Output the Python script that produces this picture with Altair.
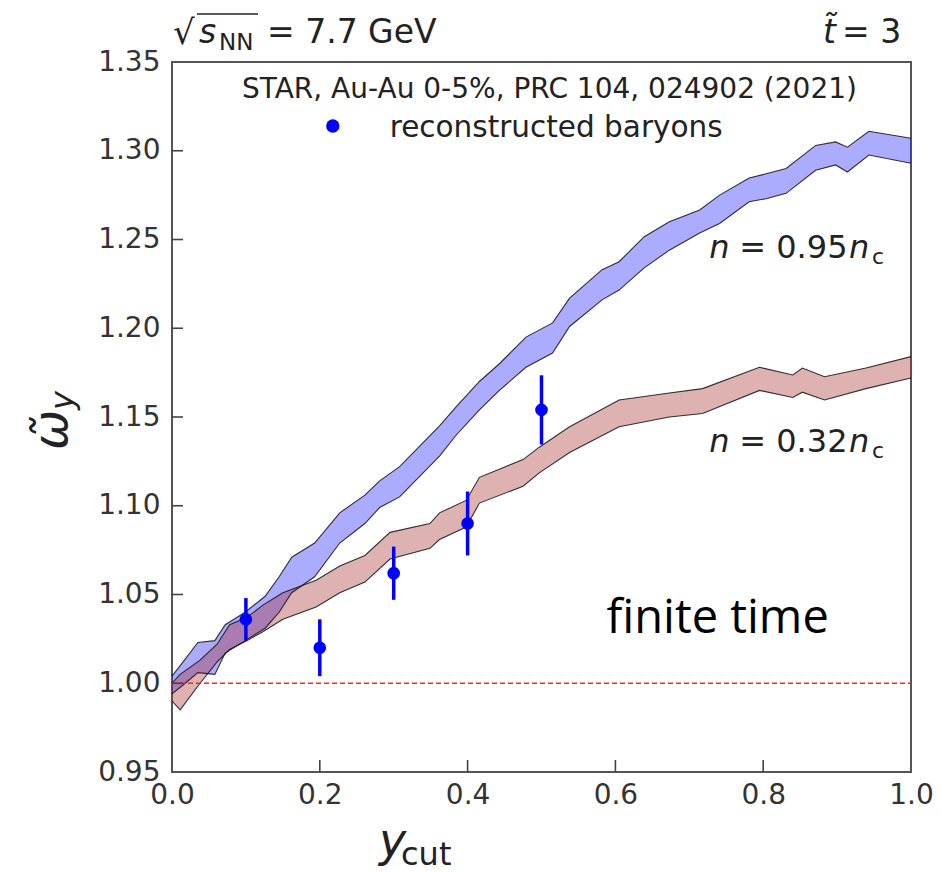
import altair as alt
import pandas as pd

# ---------------- data ----------------
X_BLUE = [0.000, 0.015, 0.035, 0.058, 0.072, 0.099, 0.126, 0.145, 0.162, 0.193,
          0.227, 0.261, 0.281, 0.308, 0.362, 0.385, 0.416, 0.443, 0.479, 0.515,
          0.538, 0.582, 0.605, 0.639, 0.673, 0.714, 0.741, 0.781, 0.804, 0.831,
          0.871, 0.898, 0.914, 0.943, 1.000]
HI_BLUE = [1.004, 1.012, 1.023, 1.024, 1.033, 1.040, 1.049, 1.060, 1.071, 1.079,
           1.096, 1.106, 1.114, 1.122, 1.145, 1.156, 1.170, 1.180, 1.195, 1.203,
           1.217, 1.233, 1.2375, 1.2516, 1.260, 1.2666, 1.275, 1.2846, 1.287, 1.290,
           1.303, 1.305, 1.302, 1.311, 1.307]
LO_BLUE = [0.994, 0.999, 1.006, 1.005, 1.017, 1.024, 1.031, 1.040, 1.051, 1.060,
           1.079, 1.090, 1.099, 1.105, 1.128, 1.140, 1.154, 1.165, 1.178, 1.186,
           1.201, 1.216, 1.2215, 1.234, 1.244, 1.2536, 1.259, 1.2713, 1.273, 1.276,
           1.289, 1.292, 1.288, 1.2976, 1.293]

X_RED = [0.000, 0.011, 0.038, 0.061, 0.078, 0.101, 0.123, 0.150, 0.195, 0.227,
         0.261, 0.295, 0.349, 0.362, 0.398, 0.416, 0.475, 0.497, 0.538, 0.605,
         0.673, 0.718, 0.795, 0.840, 0.853, 0.883, 0.939, 1.000]
HI_RED = [1.000, 1.005, 1.013, 1.022, 1.033, 1.037, 1.044, 1.051, 1.058, 1.066,
          1.072, 1.085, 1.090, 1.096, 1.103, 1.116, 1.126, 1.133, 1.1445, 1.1596,
          1.1635, 1.166, 1.178, 1.1737, 1.1776, 1.1727, 1.1776, 1.184]
LO_RED = [0.990, 0.985, 1.000, 1.012, 1.019, 1.024, 1.029, 1.036, 1.043, 1.051,
          1.057, 1.070, 1.076, 1.081, 1.088, 1.1015, 1.111, 1.1185, 1.130, 1.1445,
          1.150, 1.152, 1.165, 1.161, 1.164, 1.1596, 1.166, 1.172]

PTS_X = [0.1, 0.2, 0.3, 0.4, 0.5]
PTS_Y = [1.036, 1.020, 1.062, 1.090, 1.154]
PTS_ERR = [0.012, 0.016, 0.015, 0.018, 0.0195]

Y_TICKS = [0.95, 1.00, 1.05, 1.10, 1.15, 1.20, 1.25, 1.30, 1.35]
X_TICKS = [0.0, 0.2, 0.4, 0.6, 0.8, 1.0]
REF_LINE = [1.0]

# ---------------- tables ----------------
blue = pd.DataFrame({"x": X_BLUE, "hi": HI_BLUE, "lo": LO_BLUE, "s": "blue"})
red = pd.DataFrame({"x": X_RED, "hi": HI_RED, "lo": LO_RED, "s": "red"})
pts = pd.DataFrame({"x": PTS_X, "y": PTS_Y,
                    "lo": [y - e for y, e in zip(PTS_Y, PTS_ERR)],
                    "hi": [y + e for y, e in zip(PTS_Y, PTS_ERR)]})
yt = pd.DataFrame({"y": Y_TICKS[1:-1]})
xt = pd.DataFrame({"x": X_TICKS[1:-1]})

W, H = 739, 710
xs = alt.Scale(domain=[0, 1], nice=False, zero=False)
ys = alt.Scale(domain=[0.95, 1.35], nice=False, zero=False)
FONT = "DejaVu Sans"

x_axis = alt.Axis(values=X_TICKS, format=".1f", labelFontSize=28, labelFont=FONT,
                  labelColor="#333", ticks=False, domain=False, grid=False,
                  labelPadding=9, labelFlush=False, labelOverlap=False, title=None)
y_axis = alt.Axis(values=Y_TICKS, format=".2f", labelFontSize=28, labelFont=FONT,
                  labelColor="#333", ticks=False, domain=False, grid=False,
                  labelPadding=12, labelFlush=False, labelOverlap=False, title=None)


def X(field):
    return alt.X(field, scale=xs, axis=x_axis)


def Y(field):
    return alt.Y(field, scale=ys, axis=y_axis)


band_blue = alt.Chart(blue).mark_area(color="#0000ff", opacity=0.33).encode(
    x=X("x:Q"), y=Y("lo:Q"), y2="hi:Q")
band_red = alt.Chart(red).mark_area(color="#a52a2a", opacity=0.36).encode(
    x=X("x:Q"), y=Y("lo:Q"), y2="hi:Q")


def edges(df):
    out = []
    for col in ["hi", "lo"]:
        out.append(alt.Chart(df).mark_line(color="#111", strokeWidth=1.1, opacity=0.85).encode(
            x=X("x:Q"), y=Y(f"{col}:Q")))
    return out


ref = alt.Chart(pd.DataFrame({"y": REF_LINE})).mark_rule(
    color="#ff2020", strokeDash=[5, 3], strokeWidth=1.4).encode(
    y=Y("y:Q"), x=alt.value(0), x2=alt.value(W))

err = alt.Chart(pts).mark_rule(color="#0000ff", strokeWidth=3.5).encode(
    x=X("x:Q"), y=Y("lo:Q"), y2="hi:Q")
dots = alt.Chart(pts).mark_circle(color="#0000ff", opacity=1, size=160).encode(
    x=X("x:Q"), y=Y("y:Q"))

ytick = alt.Chart(yt).mark_rule(color="#444", strokeWidth=1.6).encode(
    y=Y("y:Q"), x=alt.value(0), x2=alt.value(11))
xtick = alt.Chart(xt).mark_rule(color="#444", strokeWidth=1.6).encode(
    x=X("x:Q"), y=alt.value(H), y2=alt.value(H - 12))


def dtext(t, x, y, size, italic=False, align="left", font=FONT, color="#222"):
    return alt.Chart(pd.DataFrame({"x": [x], "y": [y], "t": [t]})).mark_text(
        align=align, baseline="alphabetic", fontSize=size, font=font,
        fontStyle="italic" if italic else "normal", color=color).encode(
        x=X("x:Q"), y=Y("y:Q"), text="t:N")


def ptext(t, x, y, size, italic=False, align="left", angle=0, font=FONT, color="#222"):
    kw = dict(align=align, baseline="alphabetic", fontSize=size, font=font,
              fontStyle="italic" if italic else "normal", color=color)
    if angle:
        kw["angle"] = angle
    return alt.Chart(pd.DataFrame({"t": [t]})).mark_text(**kw).encode(
        x=alt.value(x), y=alt.value(y), text="t:N")


texts = [
    # legend
    dtext("STAR, Au-Au 0-5%, PRC 104, 024902 (2021)", 0.5108, 1.3297, 28, align="center"),
    dtext("reconstructed baryons", 0.2946, 1.3077, 29.5),
    # annotations
    dtext("n", 0.727, 1.2396, 32, italic=True),
    dtext("= 0.95", 0.7676, 1.2396, 32),
    dtext("n", 0.9162, 1.2396, 32, italic=True),
    dtext("c", 0.9473, 1.2362, 22),
    dtext("n", 0.727, 1.1303, 32, italic=True),
    dtext("= 0.32", 0.7676, 1.1303, 32),
    dtext("n", 0.9162, 1.1303, 32, italic=True),
    dtext("c", 0.9473, 1.1269, 22),
    dtext("finite time", 0.588, 1.0283, 47, font="Open Sans", color="#000"),
    # top titles
    ptext("\u221a", 1, -18, 34),
    ptext("s", 27, -19, 33, italic=True),
    ptext("NN", 47, -12, 23),
    ptext("= 7.7 GeV", 95, -19, 33),
    ptext("t\u0303", 651, -19, 33, italic=True),
    ptext("= 3", 670, -19, 33),
    # axis titles
    ptext("y", 207, 794, 46, italic=True),
    ptext("cut", 229, 803, 32),
    ptext("\u03c9\u0303", -105, 388, 48, italic=True, angle=270),
    ptext("y", -99, 348, 32, italic=True, angle=270),
]

legend_dot = alt.Chart(pd.DataFrame({"x": [0.2176], "y": [1.3139]})).mark_circle(
    color="#0000ff", opacity=1, size=180).encode(x=X("x:Q"), y=Y("y:Q"))

overline = alt.Chart(pd.DataFrame({"a": [0]})).mark_rule(color="#222", strokeWidth=1.5).encode(
    x=alt.value(25), x2=alt.value(86), y=alt.value(-48))

chart = alt.layer(
    band_blue, band_red, *edges(blue), *edges(red), ref, err, dots,
    ytick, xtick, legend_dot, overline, *texts
).properties(
    width=W, height=H,
    autosize=alt.AutoSizeParams(type="none"),
    padding={"left": 164, "top": 54, "right": 22, "bottom": 100},
).configure_view(stroke="#555", strokeWidth=2)

chart.save("out.html", embed_options={"renderer": "svg", "actions": False})
